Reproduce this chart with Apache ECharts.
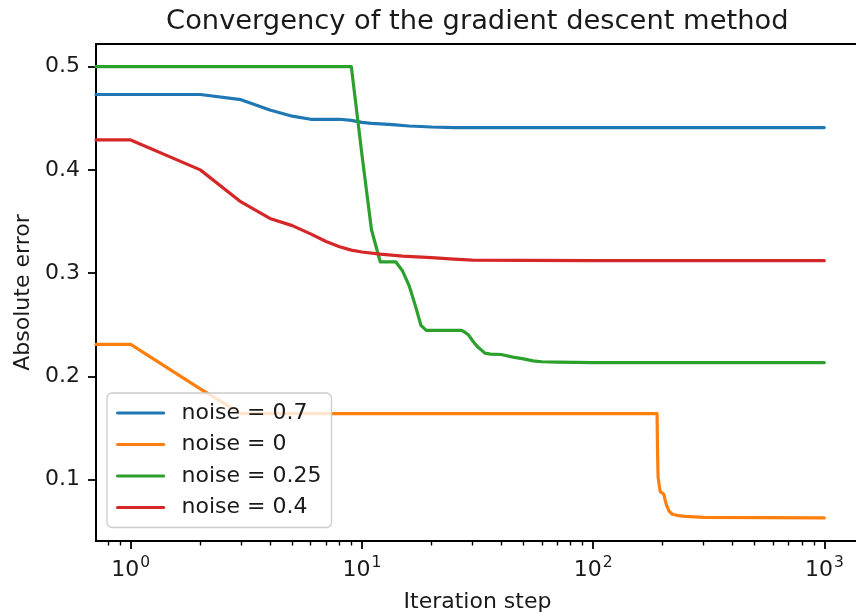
<!DOCTYPE html>
<html>
<head>
<meta charset="utf-8">
<script src="https://cdn.jsdelivr.net/npm/echarts@6/dist/echarts.min.js"></script>
<style>
  html, body { margin: 0; padding: 0; background: #fff; }
  #chart { width: 856px; height: 612px; }
</style>
</head>
<body>
<div id="chart"></div>
<script>
// Absolute error per iteration step of gradient descent, for four noise levels.
const seriesNames = ['noise = 0.7', 'noise = 0', 'noise = 0.25', 'noise = 0.4'];
const seriesColors = ['#1f77b4', '#ff7f0e', '#2ca02c', '#d62728'];

const stepsBlue = [0, 1, 2, 3, 4, 5, 6, 7, 8, 9, 10, 11, 12, 13, 14, 15, 16, 18, 20, 25, 30, 40, 60, 100, 999];
const errBlue = [0.473, 0.473, 0.473, 0.468, 0.458, 0.452, 0.449, 0.449, 0.449, 0.448, 0.446, 0.445, 0.4445, 0.444, 0.4435, 0.443, 0.4425, 0.442, 0.4415, 0.441, 0.441, 0.441, 0.441, 0.441, 0.441];

const stepsOrange = [0, 1, 2, 3, 189, 190, 191, 193, 195, 198, 202, 205, 208, 213, 220, 230, 250, 300, 999];
const errOrange = [0.231, 0.231, 0.188, 0.164, 0.164, 0.125, 0.102, 0.095, 0.0885, 0.087, 0.086, 0.080, 0.075, 0.0695, 0.0665, 0.0655, 0.0645, 0.0635, 0.063];

const stepsGreen = [0, 1, 9, 10, 11, 12, 14, 15, 16, 17, 18, 19, 27, 28, 29, 30, 31, 32, 33, 34, 36, 40, 45, 50, 55, 60, 70, 100, 999];
const errGreen = [0.5, 0.5, 0.5, 0.415, 0.342, 0.311, 0.311, 0.302, 0.288, 0.269, 0.2495, 0.2445, 0.2445, 0.2425, 0.2398, 0.235, 0.231, 0.2277, 0.2252, 0.2225, 0.2215, 0.2212, 0.2187, 0.217, 0.215, 0.2142, 0.2138, 0.2134, 0.2133];

const stepsRed = [0, 1, 2, 3, 4, 5, 6, 7, 8, 9, 10, 12, 15, 20, 25, 30, 50, 100, 999];
const errRed = [0.429, 0.429, 0.400, 0.369, 0.353, 0.346, 0.338, 0.3306, 0.3255, 0.3223, 0.3205, 0.3184, 0.3165, 0.315, 0.3135, 0.3126, 0.3124, 0.3122, 0.3121];

const xMajorTicks = [1, 10, 100, 1000];
const xMinorTicks = [0.8, 0.9, 2, 3, 4, 5, 6, 7, 8, 9, 20, 30, 40, 50, 60, 70, 80, 90, 200, 300, 400, 500, 600, 700, 800, 900];
const yTicks = [0.1, 0.2, 0.3, 0.4, 0.5];

const X_MIN = 0.708, X_MAX = 1412;
const Y_MIN = 0.0406, Y_MAX = 0.5219;

// Step 0 cannot sit on a log axis, so it is placed at the left edge.
function toPairs(steps, vals) {
  return steps.map((s, i) => [s === 0 ? X_MIN : s, vals[i]]);
}

const allSteps = [stepsBlue, stepsOrange, stepsGreen, stepsRed];
const allErrs = [errBlue, errOrange, errGreen, errRed];

const FONT = 'DejaVu Sans';
const TXT = '#1a1a1a';
const LINE_W = 3.2;

const chart = echarts.init(document.getElementById('chart'), null, { renderer: 'canvas' });

chart.setOption({
  animation: false,
  backgroundColor: '#ffffff',
  textStyle: { fontFamily: FONT },
  grid: {
    left: 96, top: 44, right: -3, bottom: 71,
    outerBoundsMode: 'none',
    show: true, borderColor: '#000', borderWidth: 1.8, backgroundColor: 'transparent',
    containLabel: false
  },
  graphic: [{
    type: 'text', x: 477.3, y: 22, z: 10,
    style: {
      text: 'Convergency of the gradient descent method',
      fontFamily: FONT, fontSize: 27.3, fill: TXT,
      align: 'center', verticalAlign: 'middle'
    }
  }],
  legend: {
    orient: 'vertical', left: 107, top: 393,
    padding: [9, 10, 9, 9],
    itemWidth: 46, itemHeight: 20, itemGap: 9.5,
    backgroundColor: 'rgba(255,255,255,0.8)',
    borderColor: '#cccccc', borderWidth: 1.3, borderRadius: 5,
    data: seriesNames,
    itemStyle: { opacity: 0 },
    lineStyle: { width: LINE_W },
    textStyle: { fontFamily: FONT, fontSize: 22, color: TXT, padding: [0, 0, 0, 13] }
  },
  xAxis: [{
    type: 'log', logBase: 10, min: X_MIN, max: X_MAX,
    name: 'Iteration step', nameLocation: 'middle', nameGap: 50,
    nameTextStyle: { fontFamily: FONT, fontSize: 22, color: TXT },
    axisLine: { show: true, lineStyle: { color: '#000', width: 1.8 } },
    axisTick: { show: true, inside: false, length: 8, lineStyle: { color: '#000', width: 1.8 }, customValues: xMajorTicks },
    axisLabel: {
      show: true, margin: 14, customValues: xMajorTicks,
      formatter: v => '{b|10}{e|' + Math.round(Math.log10(v)) + '}',
      rich: {
        b: { fontFamily: FONT, fontSize: 22, color: TXT, lineHeight: 26, verticalAlign: 'bottom' },
        e: { fontFamily: FONT, fontSize: 15.5, color: TXT, lineHeight: 26, verticalAlign: 'top', padding: [0, 0, 0, 1] }
      }
    },
    splitLine: { show: false },
    minorTick: { show: false }, minorSplitLine: { show: false }
  }, {
    type: 'log', logBase: 10, min: X_MIN, max: X_MAX, position: 'bottom', gridIndex: 0,
    axisLine: { show: false },
    axisTick: { show: true, inside: false, length: 4.5, lineStyle: { color: '#000', width: 1.4 }, customValues: xMinorTicks },
    axisLabel: { show: false },
    splitLine: { show: false }
  }],
  yAxis: {
    type: 'value', min: Y_MIN, max: Y_MAX,
    name: 'Absolute error', nameLocation: 'middle', nameGap: 61, nameRotate: 90,
    nameTextStyle: { fontFamily: FONT, fontSize: 22, color: TXT },
    axisLine: { show: true, lineStyle: { color: '#000', width: 1.8 } },
    axisTick: { show: true, inside: false, length: 8, lineStyle: { color: '#000', width: 1.8 }, customValues: yTicks },
    axisLabel: {
      show: true, margin: 16, customValues: yTicks,
      fontFamily: FONT, fontSize: 22, color: TXT,
      formatter: v => v.toFixed(1)
    },
    splitLine: { show: false }
  },
  series: seriesNames.map((name, i) => ({
    name: name,
    type: 'line',
    xAxisIndex: 0,
    data: toPairs(allSteps[i], allErrs[i]),
    symbol: 'none', showSymbol: false,
    smooth: false,
    clip: true,
    color: seriesColors[i],
    lineStyle: { color: seriesColors[i], width: LINE_W, cap: 'round', join: 'round' },
    emphasis: { disabled: true }
  }))
});
</script>
</body>
</html>
